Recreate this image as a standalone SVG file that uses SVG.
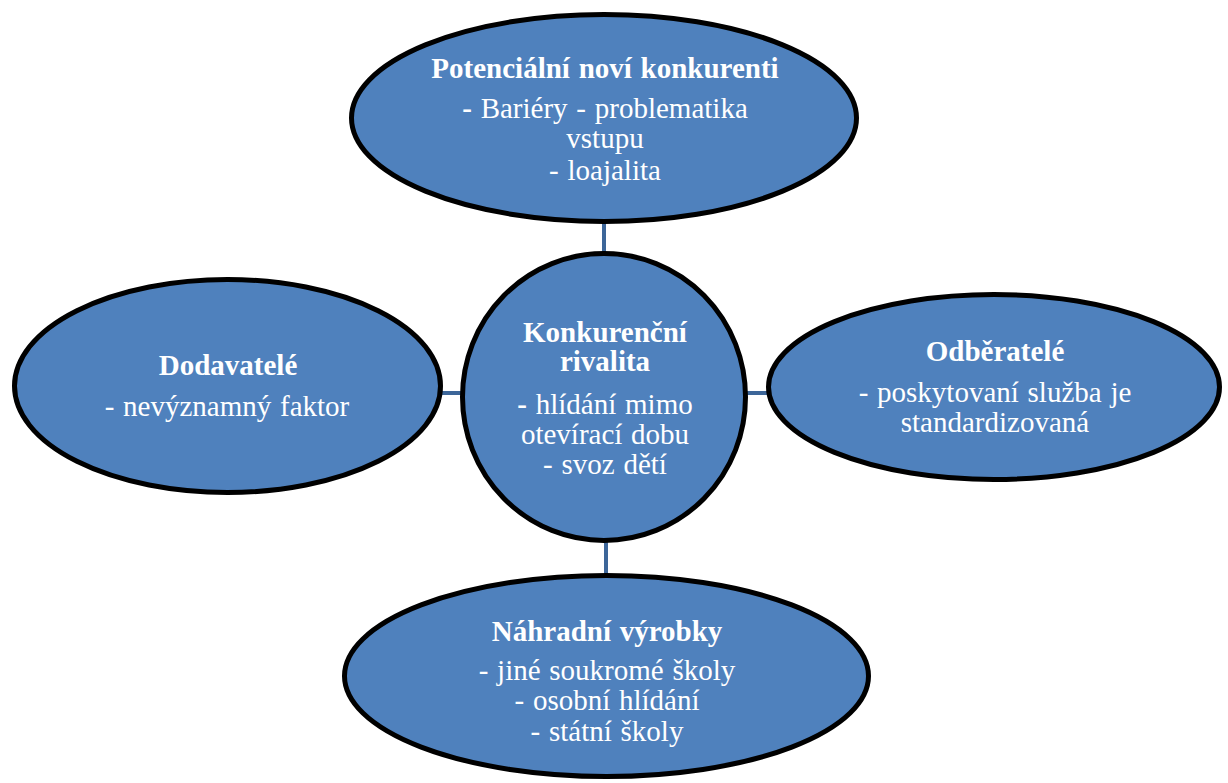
<svg xmlns="http://www.w3.org/2000/svg" width="1228" height="783" viewBox="0 0 1228 783">
<style>
.node{fill:#4f81bd;stroke:#000;stroke-width:5}
.conn{stroke:#3d6699;stroke-width:4;fill:none}
text{font-family:"Liberation Serif","Times New Roman",serif;font-size:29px;fill:#fff;text-anchor:middle;word-spacing:1.5px}
.b{font-weight:bold}
</style>
<rect width="1228" height="783" fill="#fff"/>
<g id="connectors">
<line class="conn" x1="604" y1="222" x2="604" y2="254"/>
<line class="conn" x1="606" y1="540" x2="606" y2="575"/>
<line class="conn" x1="441" y1="393" x2="463" y2="393"/>
<line class="conn" x1="745" y1="393" x2="769" y2="393"/>
</g>
<g id="top">
<ellipse class="node" cx="604" cy="118" rx="252.5" ry="103.5"/>
<text x="605" y="78" class="b">Potenciální noví konkurenti</text>
<text x="605" y="118"><tspan class="b">-</tspan> Bariéry - problematika</text>
<text x="605" y="148">vstupu</text>
<text x="605" y="180">- loajalita</text>
</g>
<g id="center">
<ellipse class="node" cx="604" cy="397" rx="141.5" ry="143.5"/>
<text x="605" y="342" class="b">Konkurenční</text>
<text x="605" y="371" class="b">rivalita</text>
<text x="605" y="414"><tspan class="b">-</tspan> hlídání mimo</text>
<text x="605" y="444">otevírací dobu</text>
<text x="605" y="474">- svoz dětí</text>
</g>
<g id="left">
<ellipse class="node" cx="227.5" cy="386" rx="213" ry="106.5"/>
<text x="228" y="375" class="b">Dodavatelé</text>
<text x="227" y="416">- nevýznamný faktor</text>
</g>
<g id="right">
<ellipse class="node" cx="994" cy="387" rx="225.5" ry="92.5"/>
<text x="995" y="361" class="b">Odběratelé</text>
<text x="995" y="402">- poskytovaní služba je</text>
<text x="995" y="432">standardizovaná</text>
</g>
<g id="bottom">
<ellipse class="node" cx="606.5" cy="676" rx="262" ry="100.5"/>
<text x="607" y="641" class="b">Náhradní výrobky</text>
<text x="607" y="680">- jiné soukromé školy</text>
<text x="607" y="710">- osobní hlídání</text>
<text x="607" y="741">- státní školy</text>
</g>
</svg>
